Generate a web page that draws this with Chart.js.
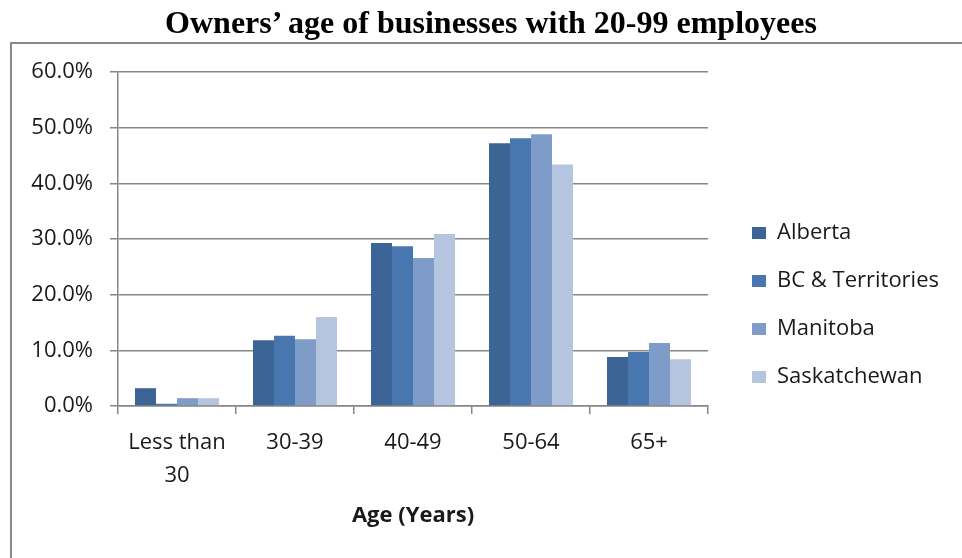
<!DOCTYPE html>
<html>
<head>
<meta charset="utf-8">
<title>Owners' age of businesses with 20-99 employees</title>
<script src="https://cdn.jsdelivr.net/npm/chart.js@4"></script>
<style>
  html, body { margin: 0; padding: 0; background: #fff; }
  .wrap { position: relative; width: 962px; height: 558px; }
  .wrap h1 {
    position: absolute; left: 0; top: 0; width: 982px; margin: 0;
    text-align: center; font: bold 32px/44px 'Liberation Serif', 'Times New Roman', serif;
    color: #000;
  }
  canvas { display: block; position: absolute; left: 0; top: 0; }
</style>
</head>
<body>
<div class="wrap">
  <canvas id="ageChart" width="962" height="558"></canvas>
  <h1>Owners’ age of businesses with 20-99 employees</h1>
</div>
<script>
// Share of owners by age band, businesses with 20-99 employees (%)
const AGE_GROUPS = [['Less than', '30'], '30-39', '40-49', '50-64', '65+'];
const ALBERTA = [3.2, 11.8, 29.3, 47.2, 8.8];
const BC_TERRITORIES = [0.4, 12.6, 28.7, 48.1, 9.7];
const MANITOBA = [1.4, 12.0, 26.6, 48.8, 11.3];
const SASKATCHEWAN = [1.4, 16.0, 30.9, 43.4, 8.4];

const GRID = '#868686';
const TEXT = '#1a1a1a';
const FONT = "'Open Sans'";

// ── Frame & legend placement ──────────────────────────────

// thin grey frame around the plot, open on the right/bottom
const framePlugin = {
  id: 'frame',
  beforeDraw(chart) {
    const ctx = chart.ctx;
    ctx.save();
    ctx.strokeStyle = '#8a8a8a';
    ctx.lineWidth = 2;
    ctx.beginPath();
    ctx.moveTo(11, chart.height);
    ctx.lineTo(11, 43);
    ctx.lineTo(chart.width, 43);
    ctx.stroke();
    ctx.restore();
  },
};

// legend sits centred in the frame, not just next to the plot area
const legendPlacement = {
  id: 'legendPlacement',
  afterLayout(chart) {
    const lg = chart.legend;
    if (!lg) return;
    lg.left = 726;
    lg.right = chart.width;
    lg.top = 49;
    lg.bottom = 561;
    lg.width = lg.right - lg.left;
    lg.height = lg.bottom - lg.top;
  },
};

function series(label, data, color) {
  return { label, data, backgroundColor: color, borderWidth: 0 };
}

new Chart(document.getElementById('ageChart'), {
  type: 'bar',
  data: {
    labels: AGE_GROUPS,
    datasets: [
      series('Alberta', ALBERTA, '#3c6495'),
      series('BC & Territories', BC_TERRITORIES, '#4877b0'),
      series('Manitoba', MANITOBA, '#7f9cc8'),
      series('Saskatchewan', SASKATCHEWAN, '#b5c4df'),
    ],
  },
  options: {
    responsive: false,
    animation: false,
    devicePixelRatio: 1,
    layout: { padding: { left: 20, right: 54, top: 72, bottom: 25 } },
    datasets: { bar: { categoryPercentage: 0.712, barPercentage: 1 } },
    plugins: {
      title: { display: false },
      legend: {
        position: 'right',
        maxWidth: 200,
        labels: {
          boxWidth: 14,
          boxHeight: 12,
          padding: 26,
          color: TEXT,
          font: { family: FONT, size: 22 },
        },
      },
      tooltip: { enabled: false },
    },
    scales: {
      x: {
        afterFit(scale) { scale.height = 127; },
        grid: { drawOnChartArea: false, drawTicks: true, tickLength: 8, color: GRID, lineWidth: 1.5 },
        border: { color: GRID, width: 1.5 },
        ticks: {
          color: TEXT,
          padding: 12,
          maxRotation: 0,
          font: { family: FONT, size: 22, lineHeight: 1.5 },
        },
        title: {
          display: true,
          text: 'Age (Years)',
          color: TEXT,
          font: { family: FONT, size: 22, weight: 'bold', lineHeight: 1.2 },
        },
      },
      y: {
        min: 0,
        max: 60,
        afterFit(scale) { scale.width = 98; },
        grid: { color: GRID, lineWidth: 1.5, tickLength: 8 },
        border: { color: GRID, width: 1.5 },
        ticks: {
          stepSize: 10,
          padding: 17,
          color: TEXT,
          font: { family: FONT, size: 22 },
          callback: v => v.toFixed(1) + '%',
        },
      },
    },
  },
  plugins: [framePlugin, legendPlacement],
});
</script>
</body>
</html>
